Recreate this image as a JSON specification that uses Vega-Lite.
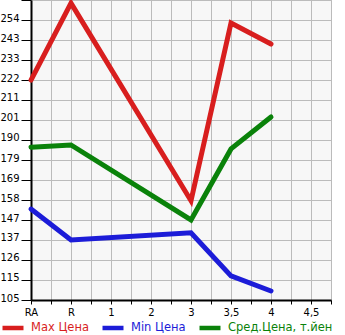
{
  "$schema": "https://vega.github.io/schema/vega-lite/v6.json",
  "width": 300,
  "height": 300,
  "autosize": {"type": "none"},
  "padding": {"left": 31, "top": 0, "right": 14, "bottom": 35},
  "background": "white",
  "config": {
    "font": "DejaVu Sans",
    "view": {"fill": "#f7f7f7", "stroke": "#bbbbbb", "strokeWidth": 1}
  },
  "data": {
    "values": [
      {"x": "RA", "i": 0, "s": "Max Цена", "v": 222},
      {"x": "R", "i": 1, "s": "Max Цена", "v": 263},
      {"x": "3", "i": 4, "s": "Max Цена", "v": 157.8},
      {"x": "3,5", "i": 5, "s": "Max Цена", "v": 252.4},
      {"x": "4", "i": 6, "s": "Max Цена", "v": 241.2},
      {"x": "RA", "i": 0, "s": "Min Цена", "v": 153.4},
      {"x": "R", "i": 1, "s": "Min Цена", "v": 136.9},
      {"x": "3", "i": 4, "s": "Min Цена", "v": 140.8},
      {"x": "3,5", "i": 5, "s": "Min Цена", "v": 117.8},
      {"x": "4", "i": 6, "s": "Min Цена", "v": 109.8},
      {"x": "RA", "i": 0, "s": "Сред.Цена, т.йен", "v": 186.3},
      {"x": "R", "i": 1, "s": "Сред.Цена, т.йен", "v": 187.5},
      {"x": "3", "i": 4, "s": "Сред.Цена, т.йен", "v": 147.6},
      {"x": "3,5", "i": 5, "s": "Сред.Цена, т.йен", "v": 185.4},
      {"x": "4", "i": 6, "s": "Сред.Цена, т.йен", "v": 202.4}
    ]
  },
  "mark": {"type": "line", "strokeWidth": 5, "strokeCap": "round"},
  "encoding": {
    "x": {
      "field": "i",
      "type": "quantitative",
      "scale": {"domain": [0, 7.5], "nice": false, "zero": false},
      "axis": {
        "title": null,
        "values": [0, 0.5, 1, 1.5, 2, 2.5, 3, 3.5, 4, 4.5, 5, 5.5, 6, 6.5, 7, 7.5],
        "labelExpr": "datum.value % 1 == 0 ? ['RA','R','1','2','3','3,5','4','4,5'][datum.value] : ''",
        "domainColor": "#000000",
        "domainWidth": 2,
        "tickColor": "#000000",
        "tickSize": 4,
        "gridColor": "#bbbbbb",
        "gridOpacity": 1,
        "labelFontSize": 10,
        "labelColor": "#000000",
        "labelPadding": 3,
        "labelFlush": false,
        "labelOverlap": false
      }
    },
    "y": {
      "field": "v",
      "type": "quantitative",
      "scale": {"domain": [105, 264.643], "nice": false, "zero": false},
      "axis": {
        "title": null,
        "values": [105, 115.643, 126.286, 136.929, 147.571, 158.214, 168.857, 179.5, 190.143, 200.786, 211.429, 222.071, 232.714, 243.357, 254, 264.643],
        "labelExpr": "['105','115','126','137','147','158','169','179','190','201','211','222','233','243','254',''][round((datum.value-105)/10.642857)]",
        "domainColor": "#000000",
        "domainWidth": 2,
        "tickColor": "#000000",
        "tickSize": 10,
        "gridColor": "#bbbbbb",
        "gridOpacity": 1,
        "labelFontSize": 10,
        "labelColor": "#000000",
        "labelPadding": 2,
        "labelBaseline": "alphabetic",
        "labelOffset": 1,
        "labelFlush": false,
        "labelOverlap": false
      }
    },
    "color": {
      "field": "s",
      "type": "nominal",
      "scale": {
        "domain": ["Max Цена", "Min Цена", "Сред.Цена, т.йен"],
        "range": ["#d81e1e", "#1c1cd8", "#0a820a"]
      },
      "legend": {
        "title": null,
        "orient": "none",
        "legendX": -31,
        "legendY": 315,
        "padding": 0,
        "direction": "horizontal",
        "symbolType": "stroke",
        "symbolStrokeWidth": 4.5,
        "symbolSize": 441,
        "labelFontSize": 11.5,
        "labelOffset": 5,
        "columnPadding": 4,
        "labelColor": {"expr": "datum.value == 'Max Цена' ? '#d81e1e' : datum.value == 'Min Цена' ? '#1c1cd8' : '#0a820a'"}
      }
    }
  }
}
